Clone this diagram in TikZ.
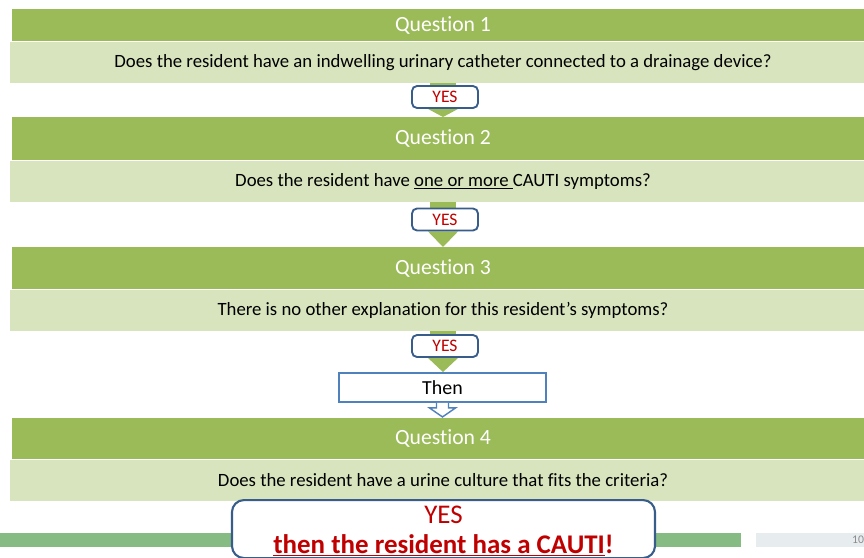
\documentclass[tikz,border=0pt]{standalone}
\usepackage{fontspec}
\setmainfont[Ligatures=NoCommon]{Carlito}
\usetikzlibrary{calc,backgrounds}
\definecolor{hdrgreen}{HTML}{9BBB59}
\definecolor{qgreen}{HTML}{D8E4BE}
\definecolor{bargreen}{HTML}{86BC84}
\definecolor{bargray}{HTML}{E7ECEF}
\definecolor{darkblue}{HTML}{385D8A}
\definecolor{midblue}{HTML}{4F81BD}
\definecolor{yesred}{HTML}{C00000}
\begin{document}
\begin{tikzpicture}[x=0.03cm,y=-0.03cm]
        \tikzstyle{header}=[rectangle, fill=hdrgreen, text=white, inner sep=0pt, minimum width=25.86cm, font=\fontsize{18.5}{21}\selectfont]
        \tikzstyle{question}=[rectangle, fill=qgreen, text=black, inner sep=0pt, minimum width=25.98cm, minimum height=1.23cm, font=\fontsize{16}{19}\selectfont]
        \tikzstyle{yesbox}=[rectangle, rounded corners=1.5mm, draw=darkblue, line width=1.6pt, fill=white, text=yesred, inner sep=0pt, minimum width=1.98cm, minimum height=0.66cm, font=\fontsize{15}{17}\selectfont]
        \tikzstyle{thenbox}=[rectangle, draw=midblue, line width=1.6pt, fill=white, inner sep=0pt, minimum width=6.21cm, minimum height=0.87cm, font=\fontsize{17}{20}\selectfont]
        \tikzstyle{result}=[rectangle, rounded corners=3.6mm, draw=darkblue, line width=1.8pt, fill=white, text=yesred, align=center, inner sep=0pt, minimum width=12.69cm, minimum height=1.74cm, font=\fontsize{23}{25.5}\selectfont]
        \path[use as bounding box] (0,0) rectangle (864,557);
        \clip (0,0) rectangle (864,557);
        \foreach \i/\ytop/\hh/\txt in {1/9/32/{Does the resident have an indwelling urinary catheter connected to a drainage device?},
                                       2/117/43/{Does the resident have \underline{one or more\ }CAUTI symptoms?},
                                       3/247/42/{There is no other explanation for this resident’s symptoms?},
                                       4/418/41/{Does the resident have a urine culture that fits the criteria?}}
        {
          \node [header, minimum height=\hh*0.03cm, anchor=north] (q\i) at (443,\ytop) {Question \i};
          \node [question, anchor=north] (t\i) at (q\i.south) {\txt};
        }
        \node [yesbox] (y1) at (445,97) {YES};
        \node [yesbox] (y2) at (445,219.5) {YES};
        \node [yesbox] (y3) at (445,346) {YES};
        \node [thenbox] (then) at (442.5,387.5) {Then};
        \filldraw [draw=midblue, fill=white, line width=1.2pt]
          ($(then.south)+(-6,0)$) -- ($(then.south)+(-6,5)$) -- ($(then.south)+(-13,5)$) -- ($(then.south)+(0,14)$)
          -- ($(then.south)+(13,5)$) -- ($(then.south)+(6,5)$) -- ($(then.south)+(6,0)$);
        \node [result, anchor=north] (final) at (443.5,499) {\rule{0pt}{19pt}YES\\\textbf{\underline{then the resident has a CAUTI}!}};
        \node [anchor=west, text=black!45, inner sep=0pt, font=\fontsize{10}{11}\selectfont] (pagenum) at (852,540) {10};
        \begin{pgfonlayer}{background}
          \fill [white] (0,0) rectangle (864,557);
          \fill [bargreen] (0,533) rectangle (741,547);
          \fill [bargray] (756,533) rectangle (872,547);
          \foreach \i/\j in {1/q2, 2/q3, 3/then}
          {
            \fill [hdrgreen] ($(t\i.south)+(-13,0)$) rectangle ($(y\i.south -| t\i.south)+(13,0)$);
            \fill [hdrgreen] ($(y\i.south -| t\i.south)+(-15,0)$) -- ($(y\i.south -| t\i.south)+(15,0)$)
              -- (\j.north -| t\i.south) -- cycle;
          }
        \end{pgfonlayer}
      \end{tikzpicture}
\end{document}
